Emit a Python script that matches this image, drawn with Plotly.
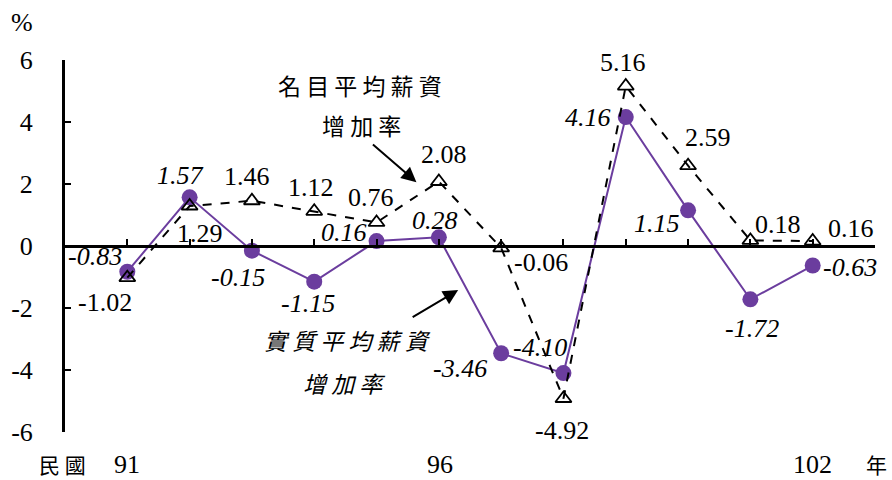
import plotly.graph_objects as go

# 民國年 91-102
years = ["91", "92", "93", "94", "95", "96", "97", "98", "99", "100", "101", "102"]
nominal = [-1.02, 1.29, 1.46, 1.12, 0.76, 2.08, -0.06, -4.92, 5.16, 2.59, 0.18, 0.16]
real = [-0.83, 1.57, -0.15, -1.15, 0.16, 0.28, -3.46, -4.10, 4.16, 1.15, -1.72, -0.63]
y_ticks = [-6, -4, -2, 0, 2, 4, 6]
y_ticktext = ["-6", "-4", "-2", "0", "2", "4", "6"]

# label offsets (px) for each point
nom_shift = [(-22, -25), (10, -27), (-5, 24), (-3, 24), (-6, 25), (5, 27),
             (40, -15), (-1, -32), (-3, 24), (20, 28), (28, 16), (38, 13)]
real_shift = [(-32, 15), (-9, 22), (-14, -27), (-6, -22), (-33, 9), (-4, 17),
              (-41, -15), (-23, 26), (-38, 0), (-31, -13), (2, -29), (37, -2)]

SERIF = "Liberation Serif"
CJK = "Noto Sans CJK TC"
PURPLE = "#6B3D9E"
NUM_SIZE = 26

idx = list(range(len(years)))

fig = go.Figure()
fig.add_trace(go.Scatter(
    x=idx, y=real, mode="lines+markers",
    line=dict(color=PURPLE, width=2),
    marker=dict(symbol="circle", size=16, color=PURPLE),
    hoverinfo="skip", showlegend=False,
))
fig.add_trace(go.Scatter(
    x=idx, y=nominal, mode="lines+markers",
    line=dict(color="black", width=2, dash="dash"),
    marker=dict(symbol="triangle-up-open", size=14, color="black", line=dict(width=1.8)),
    hoverinfo="skip", showlegend=False,
))

ann = []
for i, v in enumerate(nominal):
    dx, dy = nom_shift[i]
    ann.append(dict(x=i, y=v, text=f"{v:.2f}", showarrow=False, xshift=dx, yshift=dy,
                    font=dict(family=SERIF, size=NUM_SIZE, color="black")))
for i, v in enumerate(real):
    dx, dy = real_shift[i]
    ann.append(dict(x=i, y=v, text=f"<i>{v:.2f}</i>", showarrow=False, xshift=dx, yshift=dy,
                    font=dict(family=SERIF, size=NUM_SIZE, color="black")))

# series captions
ann += [
    dict(x=3.74, y=5.19, text="名 目 平 均 薪 資", showarrow=False,
         font=dict(family=CJK, size=23, color="black")),
    dict(x=3.76, y=3.9, text="增 加 率", showarrow=False,
         font=dict(family=CJK, size=23, color="black")),
    dict(x=3.53, y=-3.03, text="<i>實 質 平 均 薪 資</i>", showarrow=False,
         font=dict(family=CJK, size=23, color="black")),
    dict(x=3.47, y=-4.42, text="<i>增 加 率</i>", showarrow=False,
         font=dict(family=CJK, size=23, color="black")),
]
# arrows
ann += [
    dict(x=4.64, y=2.06, ax=-45, ay=-39, text="", showarrow=True,
         arrowhead=2, arrowsize=1.5, arrowwidth=2, arrowcolor="black"),
    dict(x=5.31, y=-1.42, ax=-47, ay=28, text="", showarrow=True,
         arrowhead=2, arrowsize=1.5, arrowwidth=2, arrowcolor="black"),
]

W, H = 892, 480
ML, MR, MT, MB = 65, 17, 60, 48


def paper_text(px, py, text, family, size):
    return dict(x=(px - ML) / (W - ML - MR), y=(H - MB - py) / (H - MT - MB),
                xref="paper", yref="paper", text=text,
                showarrow=False, xanchor="center", yanchor="middle",
                font=dict(family=family, size=size, color="black"))


ann += [
    paper_text(127, 465, "91", SERIF, NUM_SIZE),
    paper_text(440, 465, "96", SERIF, NUM_SIZE),
    paper_text(812, 465, "102", SERIF, NUM_SIZE),
    paper_text(62, 464, "民 國", CJK, 21),
    paper_text(876, 464, "年", CJK, 21),
    paper_text(22, 22, "%", SERIF, NUM_SIZE),
]

fig.update_layout(
    width=W, height=H,
    margin=dict(l=ML, r=MR, t=MT, b=MB),
    plot_bgcolor="white", paper_bgcolor="white",
    font=dict(family=SERIF),
    annotations=ann,
    xaxis=dict(range=[-1, 12], anchor="free", position=0.5,
               showline=True, linewidth=3, linecolor="black",
               ticks="inside", ticklen=6, tickwidth=2, tickcolor="black",
               tickvals=list(range(13)), showticklabels=False,
               showgrid=False, zeroline=False),
    yaxis=dict(range=[-6, 6], showline=True, linewidth=3, linecolor="black",
               ticks="inside", ticklen=6, tickwidth=2, tickcolor="black",
               tickvals=y_ticks, ticktext=y_ticktext, ticklabelstandoff=24,
               tickfont=dict(family=SERIF, size=NUM_SIZE, color="black"),
               showgrid=False, zeroline=False),
)

# page body has a default 8px margin; drop it so the figure fills the window
fig.write_html("out.html", config={"displayModeBar": False},
               post_script="document.body.style.margin='0';")
